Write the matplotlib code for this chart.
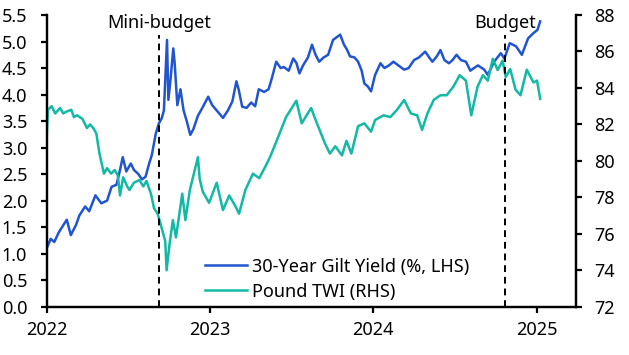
import pandas as pd
import matplotlib
matplotlib.use("Agg")
import matplotlib.pyplot as plt
import matplotlib.dates as mdates

plt.rcParams['font.family'] = ['Noto Sans', 'DejaVu Sans']

# 30-year gilt yield (%)
gilt_dates = [
    "2022-01-01", "2022-01-10", "2022-01-18", "2022-01-28", "2022-02-08", "2022-02-15",
    "2022-02-24", "2022-03-08", "2022-03-15", "2022-03-28", "2022-04-06", "2022-04-20",
    "2022-05-03", "2022-05-16", "2022-05-26", "2022-06-06", "2022-06-14", "2022-06-20",
    "2022-06-28", "2022-07-08", "2022-07-15", "2022-07-25", "2022-08-02", "2022-08-10",
    "2022-08-18", "2022-08-24", "2022-09-02", "2022-09-09", "2022-09-15", "2022-09-20",
    "2022-09-27", "2022-09-30", "2022-10-05", "2022-10-11", "2022-10-14", "2022-10-20",
    "2022-10-27", "2022-11-03", "2022-11-10", "2022-11-18", "2022-11-25", "2022-12-05",
    "2022-12-15", "2022-12-28", "2023-01-06", "2023-01-16", "2023-01-30", "2023-02-10",
    "2023-02-20", "2023-03-01", "2023-03-06", "2023-03-14", "2023-03-24", "2023-04-03",
    "2023-04-12", "2023-04-20", "2023-05-02", "2023-05-12", "2023-05-19", "2023-05-29",
    "2023-06-08", "2023-06-15", "2023-06-26", "2023-07-06", "2023-07-13", "2023-07-20",
    "2023-07-28", "2023-08-08", "2023-08-17", "2023-08-25", "2023-09-02", "2023-09-12",
    "2023-09-22", "2023-10-03", "2023-10-19", "2023-10-27", "2023-11-03", "2023-11-10",
    "2023-11-20", "2023-11-28", "2023-12-06", "2023-12-12", "2023-12-20", "2023-12-27",
    "2024-01-05", "2024-01-17", "2024-01-26", "2024-02-05", "2024-02-15", "2024-02-26",
    "2024-03-10", "2024-03-20", "2024-04-01", "2024-04-12", "2024-04-26", "2024-05-05",
    "2024-05-12", "2024-05-22", "2024-05-30", "2024-06-08", "2024-06-18", "2024-06-26",
    "2024-07-05", "2024-07-15", "2024-07-26", "2024-08-05", "2024-08-13", "2024-08-22",
    "2024-09-05", "2024-09-13", "2024-09-27", "2024-10-12", "2024-10-20", "2024-11-01",
    "2024-11-15", "2024-11-28", "2024-12-12", "2024-12-24", "2025-01-02", "2025-01-08",
]
gilt_yield = [
    1.10, 1.28, 1.22, 1.40, 1.55, 1.64,
    1.35, 1.55, 1.72, 1.89, 1.80, 2.10,
    1.95, 2.00, 2.26, 2.30, 2.58, 2.82,
    2.55, 2.70, 2.58, 2.50, 2.40, 2.45,
    2.70, 2.86, 3.27, 3.46, 3.55, 3.70,
    5.03, 3.90, 4.30, 4.87, 4.60, 3.80,
    4.10, 3.70, 3.50, 3.24, 3.35, 3.60,
    3.75, 3.96, 3.80, 3.70, 3.56, 3.70,
    3.87, 4.25, 4.10, 3.77, 3.75, 3.85,
    3.78, 4.10, 4.05, 4.10, 4.30, 4.62,
    4.50, 4.52, 4.45, 4.68, 4.60, 4.40,
    4.55, 4.70, 4.94, 4.75, 4.62, 4.70,
    4.75, 5.03, 5.13, 4.95, 4.85, 4.72,
    4.70, 4.62, 4.45, 4.21, 4.15, 4.06,
    4.37, 4.59, 4.50, 4.55, 4.62, 4.55,
    4.47, 4.50, 4.65, 4.70, 4.81, 4.70,
    4.62, 4.72, 4.84, 4.65, 4.59, 4.65,
    4.75, 4.65, 4.62, 4.45, 4.50, 4.55,
    4.47, 4.37, 4.62, 4.78, 4.68, 4.97,
    4.91, 4.75, 5.06, 5.16, 5.22, 5.38,
]

# Pound trade-weighted index
twi_dates = [
    "2022-01-01", "2022-01-04", "2022-01-12", "2022-01-20", "2022-01-31", "2022-02-07",
    "2022-02-14", "2022-02-25", "2022-03-03", "2022-03-10", "2022-03-22", "2022-04-01",
    "2022-04-08", "2022-04-15", "2022-04-22", "2022-04-29", "2022-05-09", "2022-05-16",
    "2022-05-25", "2022-06-02", "2022-06-09", "2022-06-14", "2022-06-21", "2022-06-30",
    "2022-07-05", "2022-07-15", "2022-07-27", "2022-08-05", "2022-08-12", "2022-08-22",
    "2022-08-29", "2022-09-06", "2022-09-13", "2022-09-23", "2022-09-26", "2022-10-03",
    "2022-10-10", "2022-10-17", "2022-10-24", "2022-10-31", "2022-11-07", "2022-11-17",
    "2022-11-24", "2022-12-05", "2022-12-09", "2022-12-16", "2022-12-30", "2023-01-16",
    "2023-01-30", "2023-02-13", "2023-02-27", "2023-03-07", "2023-03-21", "2023-04-07",
    "2023-04-21", "2023-05-05", "2023-05-15", "2023-05-30", "2023-06-20", "2023-07-13",
    "2023-07-25", "2023-08-15", "2023-08-28", "2023-09-15", "2023-09-26", "2023-10-08",
    "2023-10-23", "2023-11-02", "2023-11-13", "2023-11-28", "2023-12-12", "2023-12-27",
    "2024-01-05", "2024-01-24", "2024-02-08", "2024-02-23", "2024-03-10", "2024-03-25",
    "2024-04-08", "2024-04-19", "2024-05-01", "2024-05-15", "2024-05-30", "2024-06-13",
    "2024-06-28", "2024-07-12", "2024-07-26", "2024-08-07", "2024-08-21", "2024-09-02",
    "2024-09-13", "2024-09-24", "2024-10-05", "2024-10-16", "2024-10-23", "2024-11-02",
    "2024-11-14", "2024-11-25", "2024-12-09", "2024-12-24", "2025-01-01", "2025-01-08",
]
twi_values = [
    81.3, 82.8, 83.0, 82.6, 82.9, 82.6,
    82.7, 82.8, 82.4, 82.5, 82.3, 81.8,
    82.0, 81.8, 81.5, 80.4, 79.3, 79.6,
    79.3, 79.5, 79.2, 78.1, 79.1, 78.6,
    78.4, 78.8, 78.95, 78.6, 78.9, 78.2,
    77.4, 77.1, 76.5, 75.6, 74.0, 75.5,
    76.75, 75.8, 77.0, 78.2, 76.75, 78.4,
    79.1, 80.2, 79.0, 78.3, 77.7, 78.8,
    77.3, 78.1, 77.5, 77.1, 78.4, 79.3,
    79.05, 79.7, 80.2, 81.1, 82.4, 83.3,
    82.06, 82.9, 82.06, 80.96, 80.4, 80.8,
    80.3, 81.1, 80.4, 81.9, 82.06, 81.6,
    82.24, 82.5, 82.4, 82.8, 83.34, 82.6,
    82.5, 81.7, 82.6, 83.34, 83.6, 83.6,
    84.07, 84.7, 84.4, 82.5, 84.07, 84.7,
    84.4, 85.6, 84.98, 85.5, 84.6, 85.04,
    83.9, 83.6, 85.0, 84.3, 84.4, 83.4,
]

events = ["Mini-budget", "Budget"]
event_dates = ["2022-09-09", "2024-10-22"]

blue = "#2155cf"
teal = "#12b9a4"

fig = plt.figure(figsize=(6.29, 3.55), dpi=100)
ax = fig.add_axes([0.0742, 0.136, 0.8415, 0.8217])
ax2 = ax.twinx()

l1, = ax.plot(pd.to_datetime(gilt_dates), gilt_yield, color=blue, lw=1.8,
              label="30-Year Gilt Yield (%, LHS)")
l2, = ax2.plot(pd.to_datetime(twi_dates), twi_values, color=teal, lw=1.8,
               label="Pound TWI (RHS)")

for name, d in zip(events, event_dates):
    x = pd.Timestamp(d)
    ax2.plot([x, x], [72, 86.9], color="black", lw=1.4, ls=(0, (3.5, 2.5)), zorder=5)
    ax2.text(x, 87.55, name, ha="center", va="center", fontsize=13)

ax.set_xlim(pd.Timestamp("2022-01-01"), pd.Timestamp("2025-03-29"))
ax.set_ylim(0, 5.5)
ax2.set_ylim(72, 88)
ax.set_yticks([i * 0.5 for i in range(12)])
ax.yaxis.set_major_formatter(matplotlib.ticker.FormatStrFormatter("%.1f"))
ax2.set_yticks(range(72, 89, 2))
ax.xaxis.set_major_locator(mdates.YearLocator())
ax.xaxis.set_major_formatter(mdates.DateFormatter("%Y"))

for a in (ax, ax2):
    a.spines["top"].set_visible(False)
    for s in ("left", "right", "bottom"):
        a.spines[s].set_linewidth(1.6)
    a.tick_params(width=1.6, length=4, labelsize=13, direction="out")
ax.tick_params(axis="y", pad=10)
ax2.tick_params(axis="y", pad=9)
ax.tick_params(axis="x", pad=6)

ax.legend([l1, l2], [l1.get_label(), l2.get_label()], frameon=False, fontsize=13,
          loc="upper left", bbox_to_anchor=(0.299, 0.168), handlelength=2.33,
          handletextpad=0.25, labelspacing=0.39, borderaxespad=0, borderpad=0)

fig.savefig("out.png", dpi=100)
